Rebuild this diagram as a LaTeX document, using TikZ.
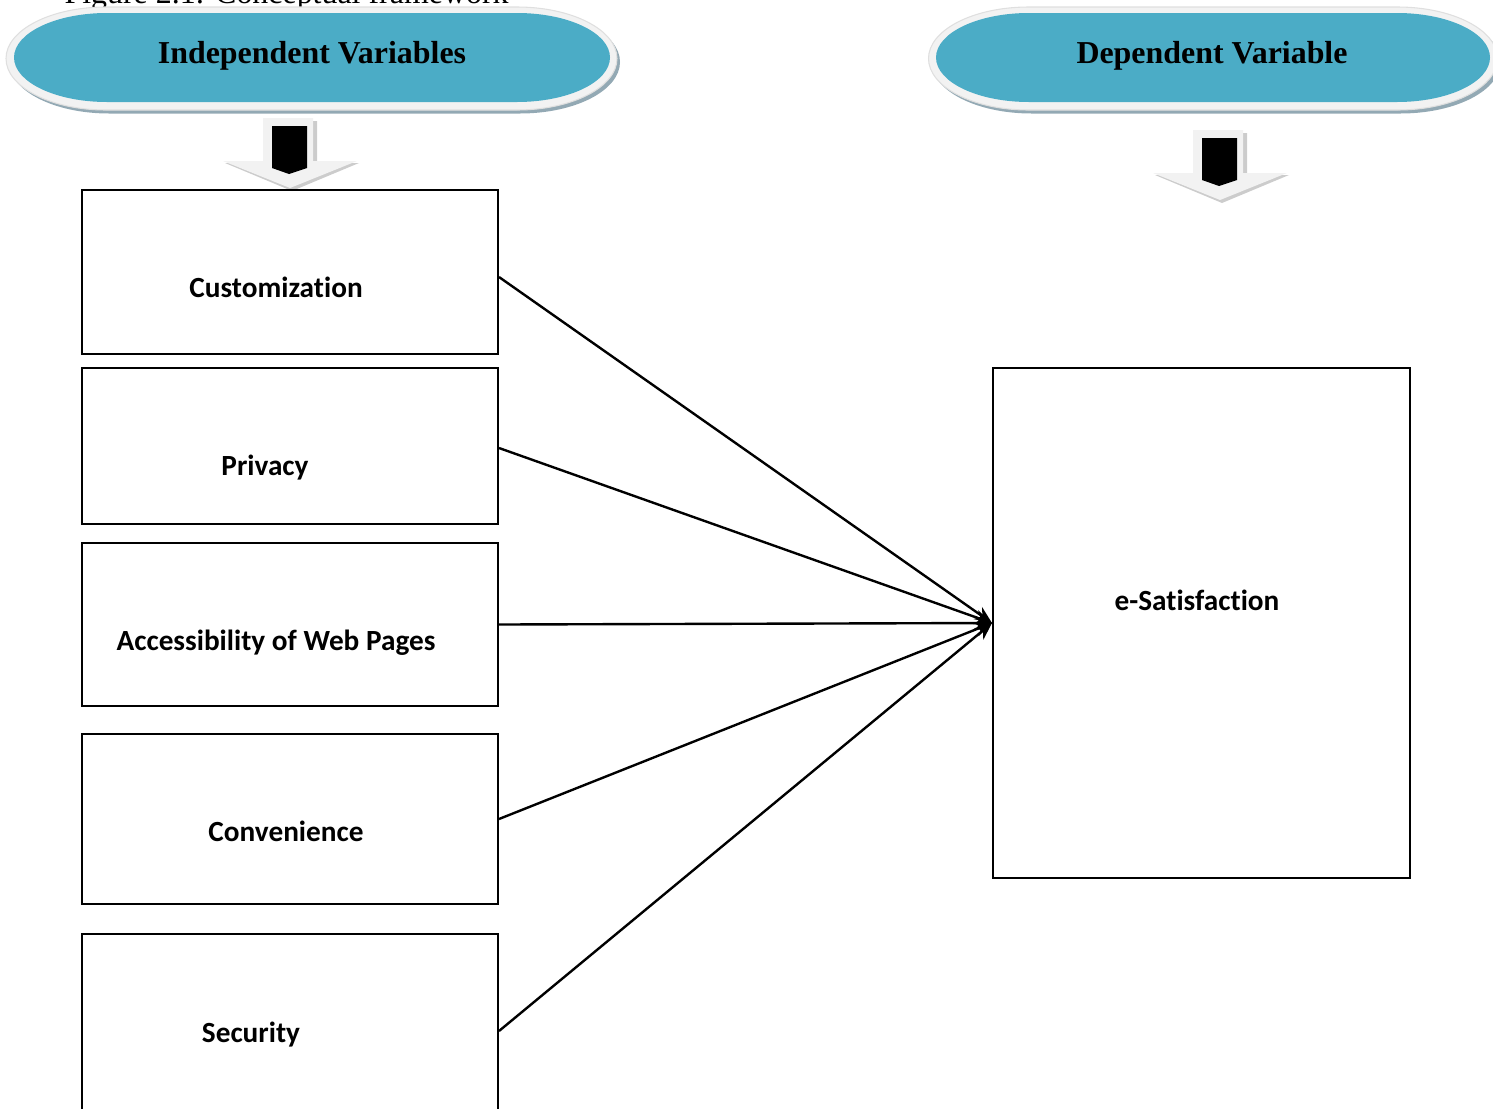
\documentclass[tikz,border=0pt]{standalone}
\usepackage{fontspec}
\setmainfont{Liberation Serif}
\newfontfamily\calibri[Ligatures=NoCommon]{Carlito}
\usepackage{tikz}
\usetikzlibrary{positioning, arrows, arrows.meta}
\definecolor{headteal}{HTML}{4BACC6}
\definecolor{headrim}{HTML}{F2F2F2}
\definecolor{headshadow}{HTML}{93A9B4}
\def\unitpx{0.376pt}
% capsule outline: centre x, centre y, half width, half height, end radius
\newcommand{\capsulepath}[5]{(#1-#3+#5,#2-#4) -- (#1+#3-#5,#2-#4) arc[start angle=-90,end angle=90,x radius=#5,y radius=#4] -- (#1-#3+#5,#2+#4) arc[start angle=90,end angle=270,x radius=#5,y radius=#4] -- cycle}
% 3d block arrow, shifted by dx, dy
\newcommand{\downblock}[2]{
  \begin{scope}[shift={(#1,#2)}]
    \fill [gray!40] (266,121) -- (317,121) -- (317,163) -- (359,163) -- (292,191) -- (225,163) -- (266,163) -- cycle;
    \fill [headrim] (263,118) -- (313,118) -- (313,161) -- (357,161) -- (290,188) -- (223,161) -- (263,161) -- cycle;
    \fill [black] (272,126) -- (307,126) -- (307,168) -- (289,174) -- (272,168) -- cycle;
  \end{scope}}

\begin{document}
\begin{tikzpicture}
  [x=\unitpx, y=-\unitpx]

  \tikzstyle{varbox} = [rectangle, draw=black, line width=0.75pt, minimum width=416*\unitpx, inner sep=0pt]
  \tikzstyle{vartext} = [font=\calibri\bfseries\fontsize{11}{13}\selectfont, anchor=base, inner sep=0pt]
  \tikzstyle{headtext} = [font=\bfseries\fontsize{12}{14}\selectfont, anchor=base, inner sep=0pt]
  \tikzstyle{arrow} = [line width=0.9pt,->,>={Stealth[length=6.5pt,width=5.5pt]}]

  \useasboundingbox (0,0) rectangle (1493,1108);

  \node (caption) [anchor=base west, inner sep=0pt, font=\fontsize{12}{14}\selectfont] at (64,3) {Figure 2.1: Conceptual framework};

  \fill [headshadow] \capsulepath{314.5}{62}{305.5}{51.5}{100};
  \filldraw [fill=headrim, draw=gray!25, line width=0.4pt] \capsulepath{311.5}{58.5}{305.5}{51.5}{100};
  \fill [headteal] \capsulepath{312}{57.5}{298}{44.5}{93};
  \node (indep) [headtext] at (312,63) {Independent Variables};

  \fill [headshadow] \capsulepath{1216}{62}{284.5}{51.5}{100};
  \filldraw [fill=headrim, draw=gray!25, line width=0.4pt] \capsulepath{1213}{58.5}{284.5}{51.5}{100};
  \fill [headteal] \capsulepath{1213}{57.5}{277}{44.5}{93};
  \node (dep) [headtext] at (1212,63) {Dependent Variable};

  \downblock{0}{0}
  \downblock{930}{12}

  \node (cust) [varbox, minimum height=164*\unitpx] at (290,272) {};
  \node (priv) [varbox, minimum height=156*\unitpx] at (290,446) {};
  \node (access) [varbox, minimum height=163*\unitpx] at (290,624.5) {};
  \node (conv) [varbox, minimum height=170*\unitpx] at (290,819) {};
  \node (secu) [varbox, minimum height=194*\unitpx] at (290,1031) {};
  \node (esat) [varbox, minimum width=417*\unitpx, minimum height=510*\unitpx] at (1201.5,623) {};

  \node (custtxt) [vartext] at (276,297) {Customization};
  \node (privtxt) [vartext] at (265,475) {Privacy};
  \node (accesstxt) [vartext] at (276,650) {Accessibility of Web Pages};
  \node (convtxt) [vartext] at (286,841) {Convenience};
  \node (secutxt) [vartext] at (251,1042) {Security};
  \node (esattxt) [vartext] at (1197,610) {e-Satisfaction};

  \draw [arrow] ([yshift=-5*\unitpx]cust.east) -- (esat.west);
  \draw [arrow] ([yshift=-2*\unitpx]priv.east) -- (esat.west);
  \draw [arrow] (access.east) -- (esat.west);
  \draw [arrow] (conv.east) -- (esat.west);
  \draw [arrow] (secu.east) -- (esat.west);

\end{tikzpicture}
\end{document}
